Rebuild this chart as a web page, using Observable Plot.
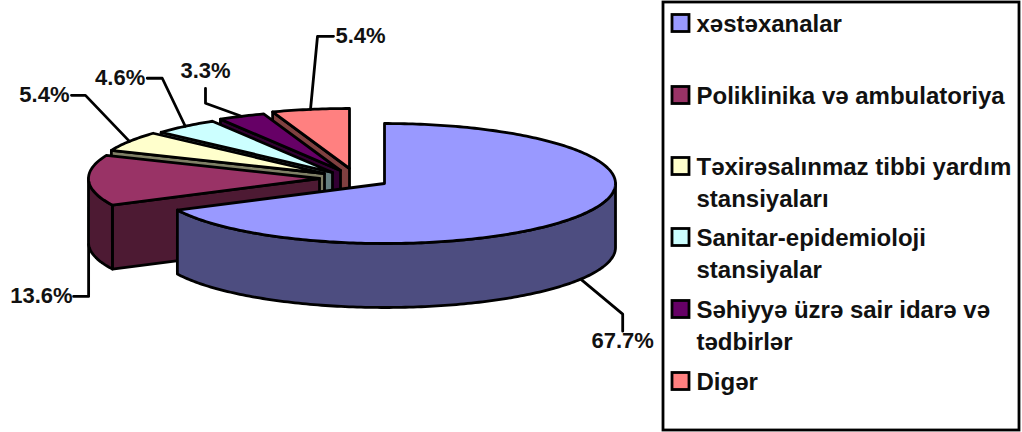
<!DOCTYPE html>
<html>
<head>
<meta charset="utf-8">
<style>
  html, body { margin: 0; padding: 0; background: #fff; }
  svg { display: block; }
</style>
<script src="https://cdn.jsdelivr.net/npm/d3@7"></script>
<script src="https://cdn.jsdelivr.net/npm/@observablehq/plot@0.6"></script>
</head>
<body>
<script>
// Health-care spending shares by type of institution
const categories = [
  "xəstəxanalar",
  "Poliklinika və ambulatoriya",
  "Təxirəsalınmaz tibbi yardım\nstansiyaları",
  "Sanitar-epidemioloji\nstansiyalar",
  "Səhiyyə üzrə sair idarə və\ntədbirlər",
  "Digər"
];
const shares = [67.7, 13.6, 5.4, 4.6, 3.3, 5.4];
const topColors = ["#9999FF", "#993366", "#FFFFCC", "#CCFFFF", "#660066", "#FF8080"];
const wallColors = ["#4D4D80", "#4D1A33", "#808066", "#668080", "#330033", "#804040"];

// Pie projection: the ellipse of the top face and the thickness of the disc
const rx = 231, ry = 60, depth = 64;
// Where each slice's tip sits once pulled out of the pie
const tips = [[384, 183], [319, 178], [324, 173], [332, 172], [340, 170], [349, 168]];
// Leader line bends relative to the rim point, and where the label hangs off the last bend
const leaders = [
  {bends: [[42, 35], [42, 52]], dx: 0, dy: 10, anchor: "middle"},
  {bends: [[0, 52], [-15, 52]], dx: -1, dy: 0, anchor: "end"},
  {bends: [[-44, -46], [-58, -46]], dx: -2, dy: 0, anchor: "end"},
  {bends: [[-23, -48], [-38, -48]], dx: -2, dy: 0, anchor: "end"},
  {bends: [[-36, -13], [-36, -28]], dx: 0, dy: -17, anchor: "middle"},
  {bends: [[7, -73], [23, -73]], dx: 2, dy: 0, anchor: "start"}
];
const legendRows = [23, 95, 166, 237, 309, 381];

const rad = (deg) => (deg * Math.PI) / 180;
const rimPoint = ([cx, cy], deg, drop = 0) => ({
  x: cx + rx * Math.sin(rad(deg)),
  y: cy - ry * Math.cos(rad(deg)) + drop
});
const arc = (tip, from, to, drop = 0) => {
  const n = Math.max(1, Math.ceil(Math.abs(to - from)));
  return d3.range(n + 1).map((i) => rimPoint(tip, from + ((to - from) * i) / n, drop));
};
const pt = ([x, y], drop = 0) => ({x, y: y + drop});

// Cumulative start and end angle of each slice, clockwise from twelve o'clock
let running = 0;
const slices = shares.map((v, i) => {
  const from = (running / 100) * 360;
  running += v;
  return {i, from, to: (running / 100) * 360, tip: tips[i]};
});

const lineWidth = 2.8;
const closed = (pts) => [...pts, pts[0]];
const poly = (pts, fill) =>
  Plot.line(closed(pts), {
    x: "x", y: "y", fill, stroke: "#000", strokeWidth: lineWidth,
    strokeLinejoin: "round"
  });

// Each slice paints its cut face, outer wall and top; back slices go first
const sliceMarks = (s) => {
  const marks = [];
  const wall = wallColors[s.i], top = topColors[s.i];
  if (s.from > 0) {
    const edge = rimPoint(s.tip, s.from);
    marks.push(poly([pt(s.tip), edge, {x: edge.x, y: edge.y + depth}, pt(s.tip, depth)], wall));
  }
  const a = Math.max(s.from, 90), b = Math.min(s.to, 270);
  if (a < b) {
    marks.push(poly([...arc(s.tip, a, b), ...arc(s.tip, b, a, depth)], wall));
  }
  marks.push(poly([pt(s.tip), ...arc(s.tip, s.from, s.to)], top));
  return marks;
};

const paintOrder = [5, 4, 3, 2, 1, 0];

// Leader lines and percentage labels, anchored on each slice's mid-angle rim point
const labelRows = [];
const leaderMarks = slices.map((s) => {
  const mid = (s.from + s.to) / 2;
  const onFrontWall = mid > 90 && mid < 270;
  const start = rimPoint(s.tip, mid, onFrontWall ? depth : 0);
  const spec = leaders[s.i];
  const path = [start, ...spec.bends.map(([dx, dy]) => ({x: start.x + dx, y: start.y + dy}))];
  const end = path[path.length - 1];
  labelRows.push({
    x: end.x + spec.dx, y: end.y + spec.dy,
    text: shares[s.i].toFixed(1) + "%", anchor: spec.anchor
  });
  return Plot.line(path, {x: "x", y: "y", stroke: "#000", strokeWidth: lineWidth, curve: "linear"});
});

const labelMarks = ["start", "middle", "end"].map((anchor) =>
  Plot.text(labelRows.filter((d) => d.anchor === anchor), {
    x: "x", y: "y", text: "text", textAnchor: anchor,
    fontFamily: "Liberation Sans", fontWeight: "bold", fontSize: 22, fill: "#111"
  })
);

// Legend panel
const legendRowsData = categories.map((name, i) => ({name, i, y: legendRows[i], color: topColors[i]}));
const legendMarks = [
  Plot.rect([{x1: 663, x2: 1019, y1: 2, y2: 430}], {
    x1: "x1", x2: "x2", y1: "y1", y2: "y2", fill: "#fff", stroke: "#000", strokeWidth: lineWidth
  }),
  Plot.rect(legendRowsData, {
    x1: () => 672, x2: () => 689,
    y1: (d) => d.y - 8.5, y2: (d) => d.y + 8.5,
    fill: "color", stroke: "#000", strokeWidth: lineWidth
  }),
  Plot.text(legendRowsData, {
    x: () => 696, y: (d) => d.y - 14.5, text: "name", textAnchor: "start",
    lineAnchor: "top", lineHeight: 1.33, fontFamily: "Liberation Sans", fontWeight: "bold",
    fontSize: 24, fill: "#111"
  })
];

const chart = Plot.plot({
  width: 1022, height: 432,
  margin: 0,
  x: {domain: [0, 1022], range: [0, 1022], axis: null},
  y: {domain: [0, 432], range: [0, 432], axis: null},
  color: {type: "identity"},
  marks: [
    ...paintOrder.flatMap((i) => sliceMarks(slices[i])),
    ...leaderMarks,
    ...labelMarks,
    ...legendMarks
  ]
});
document.body.appendChild(chart);
</script>
</body>
</html>
